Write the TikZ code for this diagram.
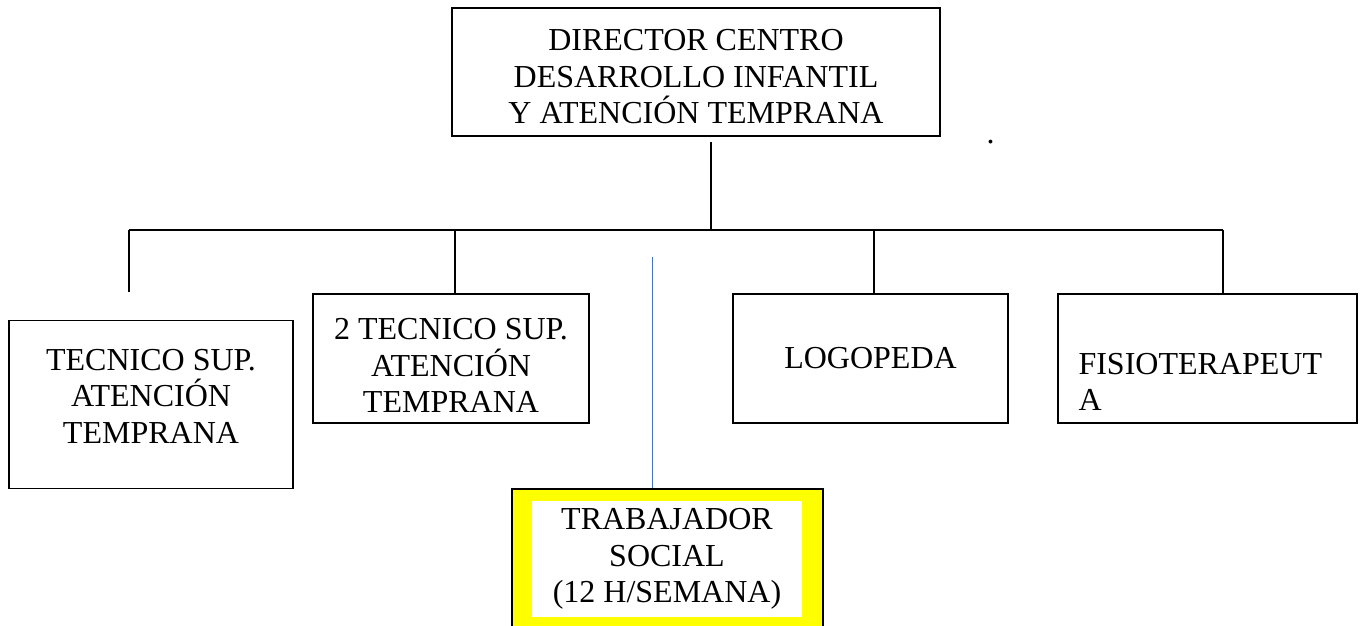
\documentclass[tikz,border=0pt]{standalone}
\usepackage{fontspec}
\setmainfont{Liberation Serif}
\usepackage{tikz}
\usetikzlibrary{positioning,calc}
\definecolor{orgblue}{RGB}{68,114,196}
\definecolor{orgyellow}{RGB}{255,255,0}
\tikzstyle{puesto} = [rectangle, draw=black, line width=1.5pt, inner sep=0pt, align=center, text centered, font=\fontsize{32}{36.5}\selectfont]
\tikzstyle{linea} = [line width=1.5pt, black]

\begin{document}
\begin{tikzpicture}[x=1pt,y=1pt]
\clip (0,0) rectangle (1364,-625);
% organigrama
\node[puesto, minimum width=488pt, minimum height=128pt, text height=103pt, text depth=0pt] (dir) at (696,-72) {DIRECTOR CENTRO\\DESARROLLO INFANTIL\\Y ATENCIÓN TEMPRANA};
\node[font=\fontsize{32}{36.5}\selectfont, inner sep=0pt, anchor=base] (punto) at (990.5,-143) {.};

\node[puesto, minimum width=284pt, minimum height=168pt, text height=77pt, text depth=0pt] (tec1) at (151,-404.5) {TECNICO SUP.\\ATENCIÓN\\TEMPRANA};
\node[puesto, minimum width=276pt, minimum height=129pt, text height=108pt, text depth=0pt] (tec2) at (451,-358.5) {2 TECNICO SUP.\\ATENCIÓN\\TEMPRANA};
\node[puesto, minimum width=275pt, minimum height=129pt] (logo) at (870.5,-358.5) {LOGOPEDA};
\node[puesto, minimum width=299pt, minimum height=129pt, align=left, text width=258pt, text height=31pt, text depth=0pt] (fisio) at (1207.5,-358.5) {FISIOTERAPEUT\\A};

\node[puesto, fill=orgyellow, minimum width=311pt, minimum height=151pt] (trab) at (667.5,-564.5) {};
\node[puesto, draw=none, fill=white, minimum width=270pt, minimum height=116pt] (trabtxt) at (667,-559) {TRABAJADOR\\SOCIAL\\(12 H/SEMANA)};

\coordinate (busL) at (129,-230);
\coordinate (busB) at (455,-230);
\coordinate (busC) at (711,-230);
\coordinate (busD) at (874,-230);
\coordinate (busR) at (1223,-230);
\coordinate (dropA) at (129,-292);
\coordinate (azulTop) at (652.5,-257);

\draw[linea] (busC |- dir.south) ++(0,-5) -- (busC);
\draw[linea] (busL) -- (busR);
\draw[linea] (busL) -- (dropA);
\draw[linea] (busB) -- (busB |- tec2.north);
\draw[linea] (busD) -- (busD |- logo.north);
\draw[linea] (busR) -- (busR |- fisio.north);
\draw[line width=1.6pt, orgblue] (azulTop) -- (azulTop |- trab.north);
\end{tikzpicture}
\end{document}
